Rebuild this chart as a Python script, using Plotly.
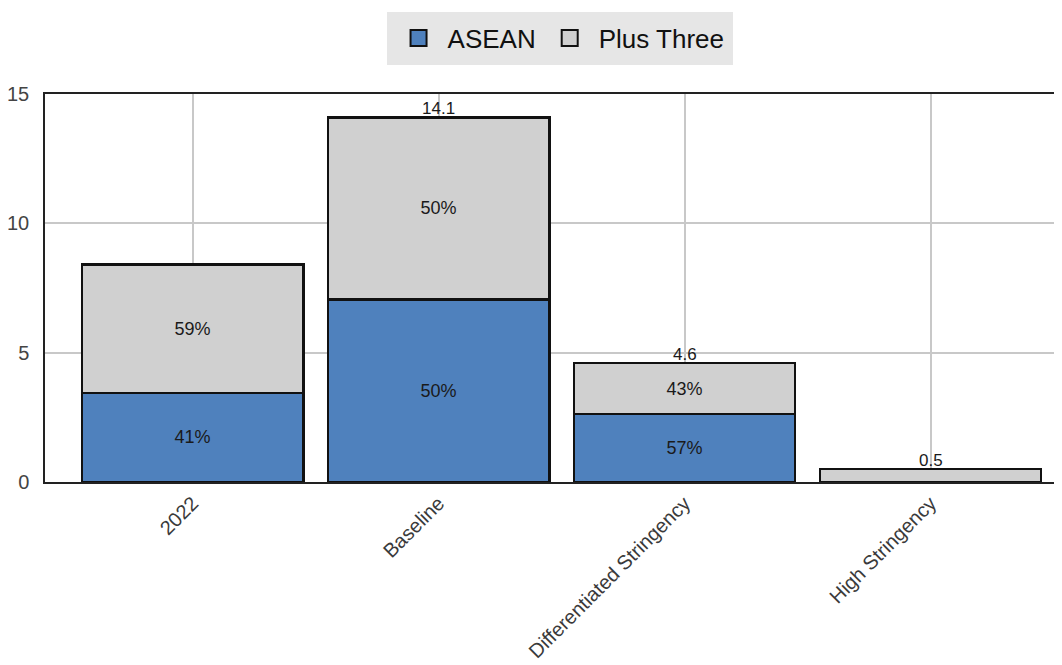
import plotly.graph_objects as go

categories = ["2022", "Baseline", "Differentiated Stringency", "High Stringency"]
asean = [3.45, 7.05, 2.62, 0.0]
plus_three = [4.95, 7.05, 1.98, 0.5]
totals = [8.4, 14.1, 4.6, 0.5]
asean_pct = ["41%", "50%", "57%", ""]
plus_pct = ["59%", "50%", "43%", ""]

FONT = "Liberation Sans, Arial, sans-serif"
BLUE = "#4f81bd"
GRAY = "#d0d0d0"

fig = go.Figure()
fig.add_trace(go.Bar(
    x=categories, y=asean, name="ASEAN", showlegend=False,
    marker=dict(color=BLUE, line=dict(color="#111111", width=2.5)),
    text=asean_pct, textposition="inside", insidetextanchor="middle",
    textfont=dict(family=FONT, size=18, color="#1a1a1a"),
    width=0.9,
))
fig.add_trace(go.Bar(
    x=categories, y=plus_three, name="Plus Three", showlegend=False,
    marker=dict(color=GRAY, line=dict(color="#111111", width=2.5)),
    text=plus_pct, textposition="inside", insidetextanchor="middle",
    textfont=dict(family=FONT, size=18, color="#1a1a1a"),
    width=0.9,
))
# legend entries (large square swatches)
for nm, col in [("ASEAN", BLUE), ("Plus Three", GRAY)]:
    fig.add_trace(go.Scatter(
        x=[None], y=[None], mode="markers", name=nm,
        marker=dict(symbol="square", size=16, color=col, line=dict(color="#111111", width=2)),
    ))

for c, t in zip(categories, totals):
    fig.add_annotation(x=c, y=t, text=f"{t}", showarrow=False, yanchor="bottom",
                       yshift=-3, font=dict(family=FONT, size=17, color="#1a1a1a"))

fig.update_layout(
    barmode="stack",
    width=1062, height=665,
    margin=dict(l=37, r=0, t=86, b=191, autoexpand=False),
    paper_bgcolor="white", plot_bgcolor="white",
    font=dict(family=FONT),
    showlegend=True,
    legend=dict(orientation="h", x=0.502, xanchor="center", y=1.144, yanchor="middle",
                bgcolor="#e6e6e6", bordercolor="#e6e6e6", borderwidth=3,
                font=dict(family=FONT, size=26, color="#111111"),
                traceorder="normal", itemsizing="trace", itemwidth=48),
    uniformtext=dict(minsize=8, mode="show"),
)
fig.update_xaxes(
    type="category", range=[-0.6, 3.567],
    showgrid=True, gridcolor="#c8c8c8", gridwidth=2,
    showline=True, linecolor="#222222", linewidth=1.5, mirror=True,
    tickangle=-45, ticks="",
    tickfont=dict(family=FONT, size=20, color="#3a3a3a"),
)
fig.update_yaxes(
    range=[0, 15], tickvals=[0, 5, 10, 15],
    showgrid=True, gridcolor="#c8c8c8", gridwidth=2,
    showline=True, linecolor="#222222", linewidth=1.5,
    zeroline=False, ticks="", ticklabelstandoff=10,
    tickfont=dict(family=FONT, size=20, color="#444444"),
)

fig.write_html("out.html")
